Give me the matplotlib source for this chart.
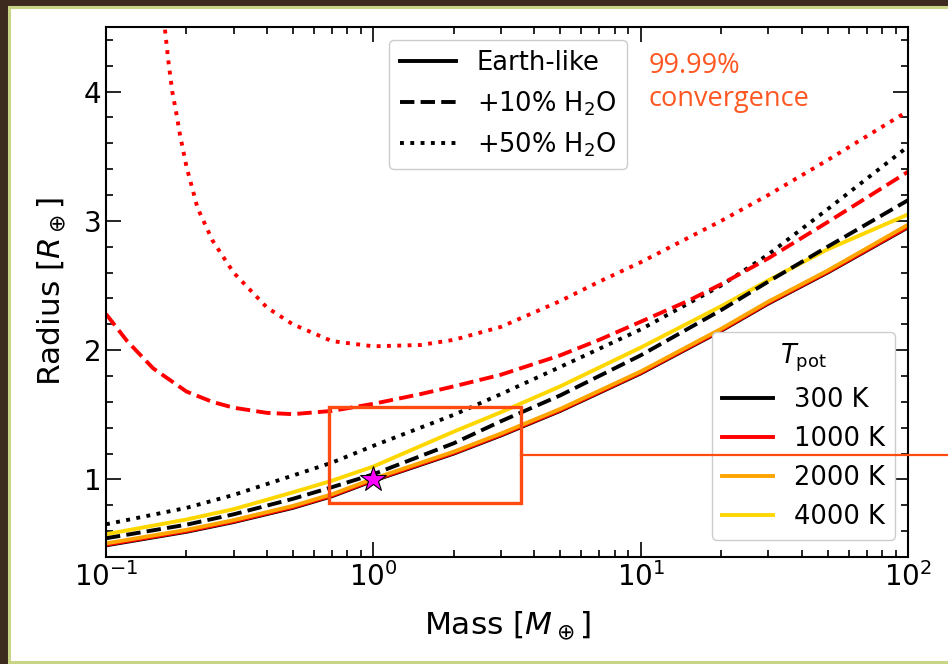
import numpy as np
import matplotlib
matplotlib.use("Agg")
import matplotlib.pyplot as plt
from matplotlib.lines import Line2D
from matplotlib.patches import Rectangle

# Planet masses [M_earth] at which the radii were tabulated
mass = [0.1, 0.2, 0.3, 0.5, 0.7, 1, 2, 3, 5, 10, 20, 30, 50, 100]

# Radii [R_earth] for each interior potential temperature / water content
r_300_dry = [0.49, 0.595, 0.67, 0.78, 0.87, 0.99, 1.2, 1.34, 1.53, 1.82, 2.15, 2.36, 2.6, 2.95]
r_1000_dry = [0.495, 0.6, 0.675, 0.785, 0.875, 0.995, 1.205, 1.345, 1.535, 1.825, 2.155, 2.365, 2.605, 2.955]
r_2000_dry = [0.505, 0.61, 0.685, 0.795, 0.885, 1.005, 1.215, 1.355, 1.545, 1.835, 2.165, 2.375, 2.615, 2.97]
r_4000_dry = [0.576, 0.69, 0.77, 0.9, 0.99, 1.1, 1.37, 1.52, 1.72, 2.02, 2.34, 2.54, 2.78, 3.05]
r_300_w10 = [0.545, 0.65, 0.73, 0.85, 0.94, 1.04, 1.28, 1.45, 1.65, 1.96, 2.31, 2.53, 2.8, 3.16]
r_300_w50 = [0.653, 0.78, 0.88, 1.03, 1.13, 1.26, 1.5, 1.66, 1.87, 2.16, 2.5, 2.74, 3.09, 3.575]

mass_1000_w10 = [0.1, 0.12, 0.15, 0.2, 0.25, 0.3, 0.4, 0.5, 0.7, 1, 1.5, 2, 3, 5, 7,
                 10, 15, 20, 30, 50, 100]
r_1000_w10 = [2.28, 2.07, 1.86, 1.68, 1.6, 1.555, 1.515, 1.505, 1.53, 1.585, 1.66, 1.72, 1.81,
              1.96, 2.08, 2.22, 2.38, 2.51, 2.71, 2.99, 3.38]

mass_1000_w50 = [0.16, 0.166, 0.171, 0.177, 0.183, 0.189, 0.2, 0.22, 0.25, 0.3, 0.4, 0.5, 0.7,
                 1, 1.5, 2, 3, 5, 7, 10, 20, 30, 50, 100]
r_1000_w50 = [4.75, 4.49, 4.24, 4.0, 3.84, 3.67, 3.42, 3.1, 2.85, 2.6, 2.33, 2.2, 2.07,
              2.03, 2.04, 2.08, 2.18, 2.38, 2.53, 2.68, 3.0, 3.2, 3.47, 3.85]

temp_labels = ["300 K", "1000 K", "2000 K", "4000 K"]
temp_colors = ["black", "red", "orange", "gold"]
comp_labels = ["Earth-like", "+10% H$_2$O", "+50% H$_2$O"]
comp_styles = ["-", "--", ":"]

W, H = 948, 664
fig = plt.figure(figsize=(W / 100, H / 100), dpi=100, facecolor="#3d2a1e")

# slide panel behind the plot
panel = Rectangle((9 / W, 2 / H), 1.0, 655 / H, transform=fig.transFigure,
                  facecolor="white", edgecolor="#c9d486", linewidth=2.2, zorder=-10)
fig.patches.append(panel)

ax_left, ax_right, ax_top, ax_bottom = 106, 908, 27, 557
ax = fig.add_axes([ax_left / W, 1 - ax_bottom / H, (ax_right - ax_left) / W,
                   (ax_bottom - ax_top) / H])
ax.set_facecolor("white")
lw = 2.8

ax.plot(mass, r_300_dry, color="black", ls="-", lw=lw)
ax.plot(mass, r_1000_dry, color="red", ls="-", lw=lw)
ax.plot(mass, r_2000_dry, color="orange", ls="-", lw=lw)
ax.plot(mass, r_4000_dry, color="gold", ls="-", lw=lw)
ax.plot(mass, r_300_w10, color="black", ls="--", lw=lw)
ax.plot(mass, r_300_w50, color="black", ls=":", lw=lw)
ax.plot(mass_1000_w10, r_1000_w10, color="red", ls="--", lw=lw)
ax.plot(mass_1000_w50, r_1000_w50, color="red", ls=":", lw=lw)

# Earth
ax.plot([1], [1], marker="*", ms=19, mfc="magenta", mec="black", mew=0.8, zorder=5)

ax.set_xscale("log")
ax.set_xlim(0.1, 100)
ax.set_ylim(0.4, 4.5)
ax.yaxis.set_major_locator(matplotlib.ticker.MultipleLocator(1))
ax.yaxis.set_minor_locator(matplotlib.ticker.MultipleLocator(0.2))
ax.tick_params(which="both", direction="in", top=True, right=True, labelsize=20, width=1.2)
ax.tick_params(which="major", length=11)
ax.tick_params(which="minor", length=5)
for s in ax.spines.values():
    s.set_linewidth(1.5)

ax.set_xlabel("Mass [$M_\\oplus$]", fontsize=22.5, labelpad=13)
ax.set_ylabel("Radius [$R_\\oplus$]", fontsize=22.5, labelpad=11)

# convergence region
ax.add_patch(Rectangle((0.68, 0.82), 3.57 - 0.68, 1.563 - 0.82, fill=False,
                       edgecolor="#ff4a12", linewidth=2.4, zorder=6))
fig.add_artist(Line2D([521 / W, 1.0], [1 - 455 / H, 1 - 455 / H], color="#ff4a12", lw=1.6))
ax.text(0.676, 0.952, "99.99%\nconvergence", transform=ax.transAxes, color="#ff5722",
        fontsize=19.5, family="Open Sans", va="top", ha="left", linespacing=1.2)

def to_axes(px, py):
    return ((px - ax_left) / (ax_right - ax_left), (ax_bottom - py) / (ax_bottom - ax_top))

h1 = [Line2D([], [], color="black", ls=s, lw=lw) for s in comp_styles]
leg1 = ax.legend(h1, comp_labels, loc="upper center", bbox_to_anchor=to_axes(508, 40),
                 borderaxespad=0, fontsize=18.5, handlelength=2.2, framealpha=1,
                 edgecolor="#cccccc")
ax.add_artist(leg1)
h2 = [Line2D([], [], color=c, ls="-", lw=lw) for c in temp_colors]
leg2 = ax.legend(h2, temp_labels, loc="lower right", bbox_to_anchor=to_axes(895, 540),
                 borderaxespad=0, fontsize=18.5, title="$T_\\mathrm{pot}$",
                 title_fontsize=18.5, handlelength=2.0, framealpha=1, edgecolor="#cccccc")

fig.savefig("out.png", dpi=100, facecolor=fig.get_facecolor())
